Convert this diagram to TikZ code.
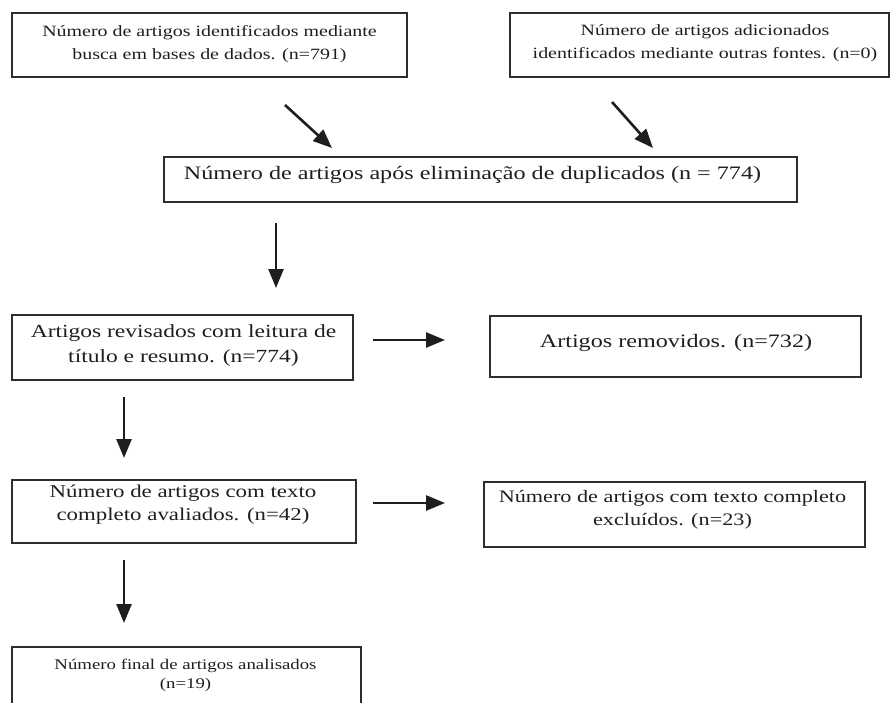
\documentclass[tikz,border=0pt]{standalone}
\usepackage{fontspec}
\setmainfont{Liberation Serif}[FakeStretch=1.27]
\usetikzlibrary{arrows.meta}
\definecolor{ink}{HTML}{1E1E1E}
\definecolor{frame}{HTML}{2E2E2E}
\begin{document}
\begin{tikzpicture}[x=1pt,y=-1pt,
  box/.style={draw=frame,line width=1.4pt,rectangle,inner sep=0pt},
  txt/.style={inner sep=0pt,anchor=base,text=ink},
  arr/.style={line width=2.6pt,draw=ink,-{Triangle[length=19pt,width=15pt]}}]
\useasboundingbox (0,0) rectangle (893,702);
\clip (0,0) rectangle (893,702);
% boxes
\node[box,minimum width=395pt,minimum height=64pt] (b1) at (209.5,45) {};
\node[box,minimum width=379pt,minimum height=64pt] (b2) at (699.5,45) {};
\node[box,minimum width=633pt,minimum height=45pt] (b3) at (480.5,179.5) {};
\node[box,minimum width=341pt,minimum height=65pt] (b4) at (182.5,347.5) {};
\node[box,minimum width=371pt,minimum height=61pt] (b5) at (675.5,346.5) {};
\node[box,minimum width=344pt,minimum height=63pt] (b6) at (184,511.5) {};
\node[box,minimum width=381pt,minimum height=65pt] (b7) at (674.5,514.5) {};
\node[box,minimum width=349pt,minimum height=68pt] (b8) at (186.5,681) {};
% texts
\node[txt,font=\fontsize{15.7}{23}\selectfont] (t1) at (209.5,36)
  {\begin{tabular}[t]{@{}c@{}}Número de artigos identificados mediante\\busca em bases de dados. (n=791)\end{tabular}};
\node[txt,font=\fontsize{15.7}{23}\selectfont] (t2) at (705,35)
  {\begin{tabular}[t]{@{}c@{}}Número de artigos adicionados\\identificados mediante outras fontes. (n=0)\end{tabular}};
\node[txt,font=\fontsize{19}{23}\selectfont] (t3) at (472.5,179)
  {Número de artigos após eliminação de duplicados (n = 774)};
\node[txt,font=\fontsize{18.5}{25}\selectfont] (t4) at (183.5,337)
  {\begin{tabular}[t]{@{}c@{}}Artigos revisados com leitura de\\título e resumo. (n=774)\end{tabular}};
\node[txt,font=\fontsize{19}{23}\selectfont] (t5) at (676,347)
  {Artigos removidos. (n=732)};
\node[txt,font=\fontsize{18}{23}\selectfont] (t6) at (183,497)
  {\begin{tabular}[t]{@{}c@{}}Número de artigos com texto\\completo avaliados. (n=42)\end{tabular}};
\node[txt,font=\fontsize{17.5}{23}\selectfont] (t7) at (672.5,502)
  {\begin{tabular}[t]{@{}c@{}}Número de artigos com texto completo\\excluídos. (n=23)\end{tabular}};
\node[txt,font=\fontsize{14.8}{19}\selectfont] (t8) at (185.5,669)
  {\begin{tabular}[t]{@{}c@{}}Número final de artigos analisados\\(n=19)\end{tabular}};
% arrow end points
\coordinate (a1s) at (285,105); \coordinate (a1e) at (332,148);
\coordinate (a2s) at (612,102); \coordinate (a2e) at (653,148);
\coordinate (a3s) at (276,223); \coordinate (a3e) at (276,288);
\coordinate (a4s) at (373,340); \coordinate (a4e) at (445,340);
\coordinate (a5s) at (124,397); \coordinate (a5e) at (124,458);
\coordinate (a6s) at (373,503); \coordinate (a6e) at (445,503);
\coordinate (a7s) at (124,560); \coordinate (a7e) at (124,623);
\draw[arr] (a1s) -- (a1e);
\draw[arr] (a2s) -- (a2e);
\draw[arr] (a3s) -- (a3e);
\draw[arr] (a4s) -- (a4e);
\draw[arr] (a5s) -- (a5e);
\draw[arr] (a6s) -- (a6e);
\draw[arr] (a7s) -- (a7e);
\end{tikzpicture}
\end{document}
